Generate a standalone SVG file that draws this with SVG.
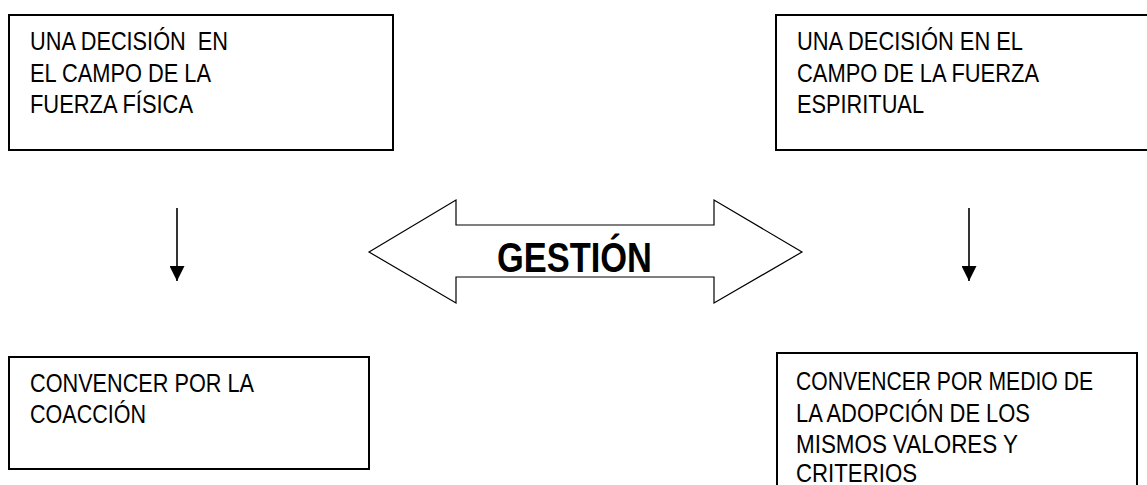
<svg xmlns="http://www.w3.org/2000/svg" width="1147" height="485" viewBox="0 0 1147 485">
  <style>
    .box { fill: #ffffff; stroke: #000000; stroke-width: 2; }
    .lbl { font-family: "Liberation Sans", Arial, sans-serif; font-size: 25.5px; fill: #000000; white-space: pre; }
    .big { font-family: "Liberation Sans", Arial, sans-serif; font-size: 43px; font-weight: bold; fill: #000000; }
    .link { stroke: #000000; stroke-width: 1.6; fill: none; }
  </style>
  <defs>
    <marker id="head" viewBox="0 0 15 15" refX="15" refY="7.5" markerWidth="15" markerHeight="15" markerUnits="userSpaceOnUse" orient="auto">
      <path d="M0,0 L15,7.5 L0,15 Z" fill="#000000"/>
    </marker>
  </defs>

  <rect width="1147" height="485" fill="#ffffff"/>

  <g id="fuerza-fisica">
    <rect class="box" x="9" y="15" width="384" height="135"/>
    <text class="lbl" x="30" y="50" textLength="198" lengthAdjust="spacingAndGlyphs" xml:space="preserve">UNA DECISIÓN  EN</text>
    <text class="lbl" x="30" y="82" textLength="181" lengthAdjust="spacingAndGlyphs">EL CAMPO DE LA</text>
    <text class="lbl" x="30" y="113" textLength="163" lengthAdjust="spacingAndGlyphs">FUERZA FÍSICA</text>
  </g>

  <g id="fuerza-espiritual">
    <rect class="box" x="776" y="15" width="380" height="135"/>
    <text class="lbl" x="797" y="50" textLength="226" lengthAdjust="spacingAndGlyphs">UNA DECISIÓN EN EL</text>
    <text class="lbl" x="797" y="82" textLength="242" lengthAdjust="spacingAndGlyphs">CAMPO DE LA FUERZA</text>
    <text class="lbl" x="797" y="113" textLength="127" lengthAdjust="spacingAndGlyphs">ESPIRITUAL</text>
  </g>

  <g id="coaccion">
    <rect class="box" x="9" y="357" width="360" height="112"/>
    <text class="lbl" x="30" y="392" textLength="224" lengthAdjust="spacingAndGlyphs">CONVENCER POR LA</text>
    <text class="lbl" x="30" y="423" textLength="116" lengthAdjust="spacingAndGlyphs">COACCIÓN</text>
  </g>

  <g id="adopcion-valores">
    <rect class="box" x="777" y="353" width="360" height="145"/>
    <text class="lbl" x="796" y="390" textLength="297" lengthAdjust="spacingAndGlyphs">CONVENCER POR MEDIO DE</text>
    <text class="lbl" x="796" y="422" textLength="234" lengthAdjust="spacingAndGlyphs">LA ADOPCIÓN DE LOS</text>
    <text class="lbl" x="796" y="453" textLength="222" lengthAdjust="spacingAndGlyphs">MISMOS VALORES Y</text>
    <text class="lbl" x="796" y="482" textLength="121" lengthAdjust="spacingAndGlyphs">CRITERIOS</text>
  </g>

  <g id="gestion">
    <path d="M369,252 L456,200 L456,225 L714,225 L714,200 L802,252 L714,303 L714,277 L456,277 L456,303 Z" fill="#ffffff" stroke="#000000" stroke-width="1.2" stroke-linejoin="miter"/>
    <text class="big" x="497" y="272" textLength="155" lengthAdjust="spacingAndGlyphs">GESTIÓN</text>
  </g>

  <g id="connectors">
    <line class="link" x1="177" y1="208" x2="177" y2="281" marker-end="url(#head)"/>
    <line class="link" x1="969" y1="208" x2="969" y2="281" marker-end="url(#head)"/>
  </g>
</svg>
